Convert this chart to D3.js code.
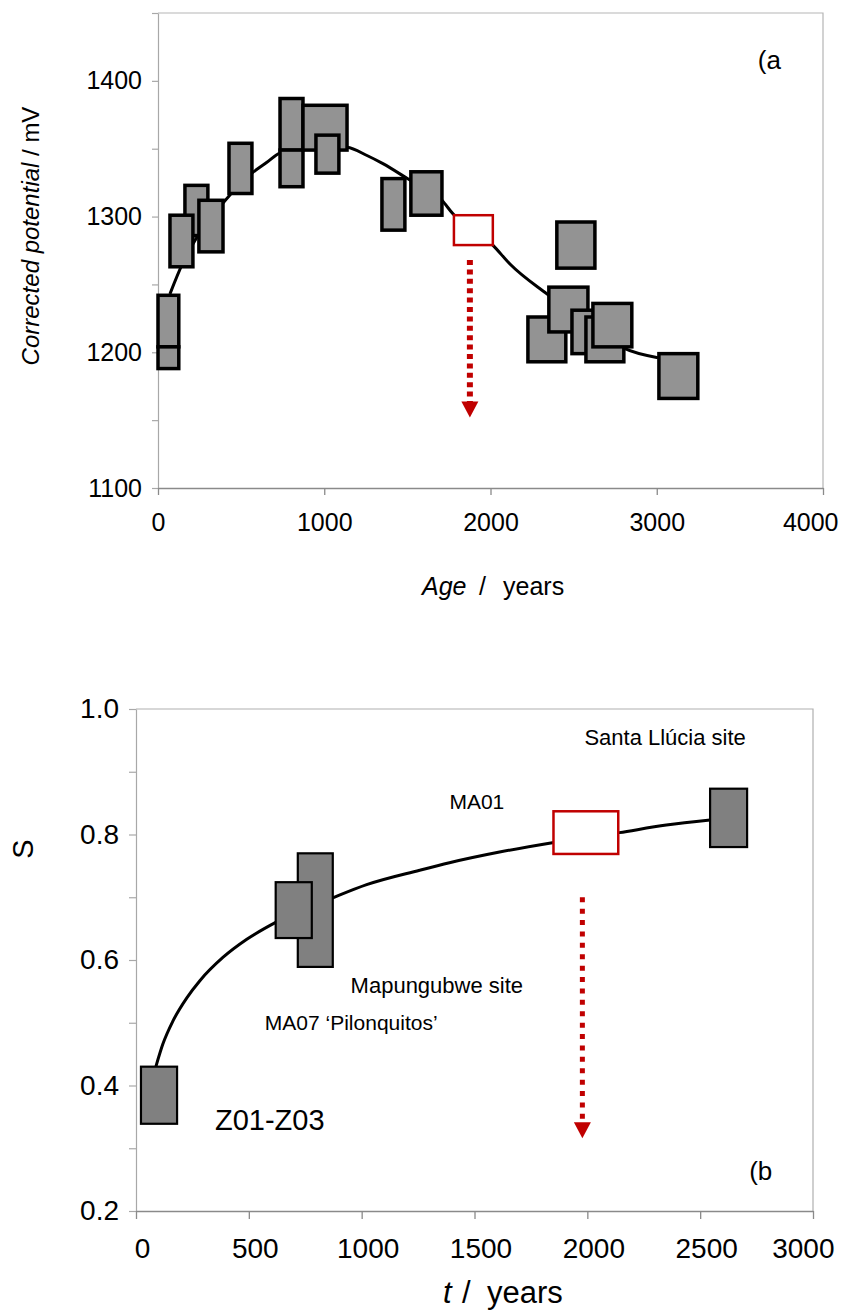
<!DOCTYPE html>
<html>
<head>
<meta charset="utf-8">
<script src="https://cdn.jsdelivr.net/npm/d3@7"></script>
<style>
  body { margin: 0; background: #fff; }
  text { font-family: "Liberation Sans", Arial, sans-serif; fill: #000; }
</style>
</head>
<body>
<svg id="chart"></svg>
<script>
// ---- panel (a): corrected potential vs age ----
const topAge = [[0,125],[0,125],[162,300],[72,210],[246,391],[427,565],[734,872],[734,872],[872,1137],[950,1088],
  [1347,1485],[1521,1708],[2399,2628],[2225,2453],[2351,2586],[2490,2718],[2574,2802],[2616,2850],[3013,3247]];
const topPotential = [[1204,1242],[1188,1204],[1286,1323],[1263,1301],[1274,1312],[1317,1354],[1349,1387],[1322,1349],[1349,1382],[1332,1360],
  [1290,1328],[1301,1333],[1262,1296],[1193,1226],[1215,1248],[1199,1231],[1193,1226],[1204,1236],[1166,1199]];
const topOpenAge = [1780, 2014];
const topOpenPotential = [1279, 1301];
const topFitAge = [72,150,235,391,565,655,734,850,1000,1137,1257,1353,1500,1708,1774,2014,2117,2339,2600,2802,3007];
const topFitPotential = [1243,1266,1285,1310,1332,1340,1347,1350,1352,1351,1345,1339,1328,1312,1302,1279,1265,1243,1220,1203,1196];
const topArrow = { age: 1876, from: 1268, to: 1152 };
const topXTicks = [0, 1000, 2000, 3000, 4000];
const topYTicks = [1100, 1150, 1200, 1250, 1300, 1350, 1400, 1450];

// ---- panel (b): S vs t ----
const botAge = [[22,182],[717,872],[619,779],[2544,2708]];
const botS = [[0.339,0.430],[0.589,0.770],[0.635,0.724],[0.780,0.873]];
const botOpenAge = [1850, 2137];
const botOpenS = [0.769, 0.837];
const botFitAge = [88,119,164,226,283,385,491,619,872,1022,1257,1389,1611,1845,2142,2350,2544];
const botFitS = [0.430,0.466,0.503,0.540,0.567,0.604,0.633,0.660,0.699,0.720,0.743,0.755,0.772,0.787,0.803,0.815,0.823];
const botArrow = { age: 1978, from: 0.700, to: 0.316 };
const botXTicks = [0, 500, 1000, 1500, 2000, 2500, 3000];
const botYTicks = [0.2, 0.3, 0.4, 0.5, 0.6, 0.7, 0.8, 0.9, 1.0];
const botLabels = [
  { text: "Santa Llúcia site", t: 1987, s: 0.943, size: 22 },
  { text: "MA01", t: 1389, s: 0.841, size: 21 },
  { text: "Mapungubwe site", t: 951, s: 0.547, size: 22 },
  { text: "MA07 \u2018Pilonquitos\u2019", t: 571, s: 0.488, size: 21 },
  { text: "Z01-Z03", t: 350, s: 0.329, size: 29 },
  { text: "(b", t: 2717, s: 0.249, size: 26 }
];

const width = 842, height = 1312;
const red = "#c00000";

const svg = d3.select("#chart")
  .attr("width", width)
  .attr("height", height)
  .attr("xmlns", "http://www.w3.org/2000/svg");

const arrow = (g, x, y, a, dash, sw) => {
  const xp = x(a.age), y0 = y(a.from), y1 = y(a.to);
  g.append("line")
    .attr("x1", xp).attr("x2", xp)
    .attr("y1", y0).attr("y2", y1 - 14)
    .attr("stroke", red)
    .attr("stroke-width", sw)
    .attr("stroke-dasharray", dash);
  g.append("path")
    .attr("d", `M${xp - 8.5},${y1 - 16}L${xp + 8.5},${y1 - 16}L${xp},${y1}Z`)
    .attr("fill", red);
}

const boxes = (g, x, y, xs, ys, fill, sw) => {
  g.append("g")
    .selectAll("rect")
    .data(xs.map((d, i) => ({ x: d, y: ys[i] })))
    .enter().append("rect")
    .attr("x", d => x(d.x[0]))
    .attr("width", d => x(d.x[1]) - x(d.x[0]))
    .attr("y", d => y(d.y[1]))
    .attr("height", d => y(d.y[0]) - y(d.y[1]))
    .attr("fill", fill)
    .attr("stroke", "#000")
    .attr("stroke-width", sw);
}

// ================= panel (a) =================
{
  const x = d3.scaleLinear().domain([0, 4000]).range([158, 823]);
  const y = d3.scaleLinear().domain([1100, 1450]).range([488, 13]);
  const g = svg.append("g");

  // frame
  g.append("path")
    .attr("d", `M${x(0)},${y(1450)}H${x(4000)}V${y(1100)}`)
    .attr("fill", "none").attr("stroke", "#b5b5b5").attr("stroke-width", 1.2);

  const yAxis = g.append("g")
    .attr("transform", `translate(${x(0)},0)`)
    .call(d3.axisLeft(y).tickValues(topYTicks).tickSize(6).tickSizeOuter(0).tickPadding(10)
      .tickFormat(d => d % 100 === 0 ? d : ""));
  yAxis.selectAll("path,line").attr("stroke", "#a8a8a8").attr("stroke-width", 1.2);
  yAxis.selectAll("text").attr("font-size", 25).attr("font-family", null);

  const xAxis = g.append("g")
    .attr("transform", `translate(0,${y(1100)})`)
    .call(d3.axisBottom(x).tickValues(topXTicks).tickSize(7).tickSizeOuter(0).tickPadding(18)
      .tickFormat(d3.format("d")));
  xAxis.selectAll("path,line").attr("stroke", "#8a8a8a").attr("stroke-width", 1.3);
  xAxis.selectAll("text").attr("font-size", 25).attr("font-family", null);
  xAxis.selectAll(".tick").filter(d => d === 4000).select("text")
    .attr("text-anchor", "end").attr("dx", 15);

  // fitted curve
  const line = d3.line().x(d => x(d[0])).y(d => y(d[1])).curve(d3.curveMonotoneX);
  g.append("path")
    .datum(topFitAge.map((a, i) => [a, topFitPotential[i]]))
    .attr("d", line)
    .attr("fill", "none").attr("stroke", "#000").attr("stroke-width", 3);

  boxes(g, x, y, topAge, topPotential, "#939393", 3.5);

  g.append("rect")
    .attr("x", x(topOpenAge[0])).attr("width", x(topOpenAge[1]) - x(topOpenAge[0]))
    .attr("y", y(topOpenPotential[1])).attr("height", y(topOpenPotential[0]) - y(topOpenPotential[1]))
    .attr("fill", "#fff").attr("stroke", red).attr("stroke-width", 2.5);

  arrow(g, x, y, topArrow, "5,4.4", 6);

  g.append("text")
    .attr("x", x(3608)).attr("y", y(1409))
    .attr("font-size", 26)
    .text("(a");

  // axis titles
  const xt = g.append("text").attr("y", 595).attr("font-size", 25);
  xt.append("tspan").attr("x", 422).attr("font-style", "italic").text("Age");
  xt.append("tspan").attr("x", 479).text("/");
  xt.append("tspan").attr("x", 503).text("years");

  const yt = g.append("text")
    .attr("transform", "translate(39,236) rotate(-90)")
    .attr("text-anchor", "middle")
    .attr("font-size", 24);
  yt.append("tspan").attr("font-style", "italic").text("Corrected potential");
  yt.append("tspan").text(" / mV");
}

// ================= panel (b) =================
{
  const x = d3.scaleLinear().domain([0, 3000]).range([136, 813]);
  const y = d3.scaleLinear().domain([0.2, 1.0]).range([1211, 709]);
  const g = svg.append("g");

  g.append("path")
    .attr("d", `M${x(0)},${y(1.0)}H${x(3000)}V${y(0.2)}`)
    .attr("fill", "none").attr("stroke", "#b0b0b0").attr("stroke-width", 1.2);

  const yAxis = g.append("g")
    .attr("transform", `translate(${x(0)},0)`)
    .call(d3.axisLeft(y).tickValues(botYTicks).tickSize(7).tickSizeOuter(0).tickPadding(10)
      .tickFormat(d => Math.round(d * 10) % 2 === 0 ? d3.format(".1f")(d) : ""));
  yAxis.selectAll("path,line").attr("stroke", "#a8a8a8").attr("stroke-width", 1.2);
  yAxis.selectAll("text").attr("font-size", 28).attr("font-family", null);

  const xAxis = g.append("g")
    .attr("transform", `translate(0,${y(0.2)})`)
    .call(d3.axisBottom(x).tickValues(botXTicks).tickSize(8).tickSizeOuter(0).tickPadding(19)
      .tickFormat(d3.format("d")));
  xAxis.selectAll("path,line").attr("stroke", "#8a8a8a").attr("stroke-width", 1.3);
  xAxis.selectAll("text").attr("font-size", 28).attr("font-family", null).attr("dx", 6);
  xAxis.selectAll(".tick").filter(d => d === 3000).select("text")
    .attr("text-anchor", "end").attr("dx", 21);

  const line = d3.line().x(d => x(d[0])).y(d => y(d[1])).curve(d3.curveMonotoneX);
  g.append("path")
    .datum(botFitAge.map((a, i) => [a, botFitS[i]]))
    .attr("d", line)
    .attr("fill", "none").attr("stroke", "#000").attr("stroke-width", 3);

  boxes(g, x, y, botAge, botS, "#808080", 2.2);

  g.append("rect")
    .attr("x", x(botOpenAge[0])).attr("width", x(botOpenAge[1]) - x(botOpenAge[0]))
    .attr("y", y(botOpenS[1])).attr("height", y(botOpenS[0]) - y(botOpenS[1]))
    .attr("fill", "#fff").attr("stroke", red).attr("stroke-width", 2.5);

  arrow(g, x, y, botArrow, "5,6.4", 5);

  g.append("g")
    .selectAll("text")
    .data(botLabels)
    .enter().append("text")
    .attr("x", d => x(d.t))
    .attr("y", d => y(d.s))
    .attr("font-size", d => d.size)
    .text(d => d.text);

  const xt = g.append("text").attr("y", 1303).attr("font-size", 31);
  xt.append("tspan").attr("x", 443).attr("font-style", "italic").text("t");
  xt.append("tspan").attr("x", 462).text("/");
  xt.append("tspan").attr("x", 487).text("years");

  g.append("text")
    .attr("transform", "translate(33,849) rotate(-90)")
    .attr("text-anchor", "middle")
    .attr("font-size", 29)
    .text("S");
}
</script>
</body>
</html>
